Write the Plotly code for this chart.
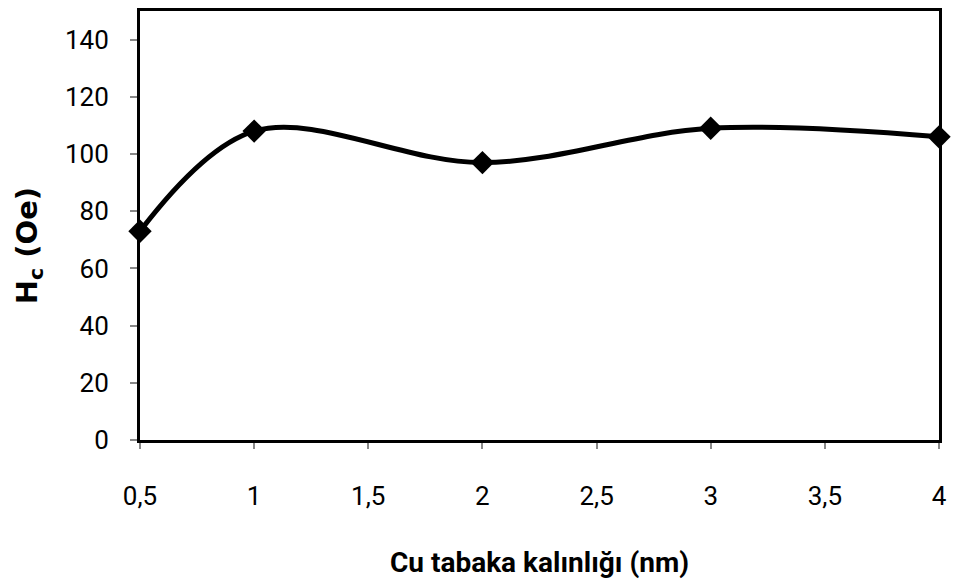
import plotly.graph_objects as go

thickness_nm = [0.5, 1, 2, 3, 4]
hc_oe = [73, 108, 97, 109, 106]
x_ticks = [0.5, 1, 1.5, 2, 2.5, 3, 3.5, 4]
x_tick_labels = ["0,5", "1", "1,5", "2", "2,5", "3", "3,5", "4"]
y_ticks = [0, 20, 40, 60, 80, 100, 120, 140]
x_title = "<b>Cu tabaka kalınlığı (nm)</b>"
y_title = "<b>H<sub>c</sub> (Oe)</b>"

fig = go.Figure()
fig.add_trace(go.Scatter(
    x=thickness_nm, y=hc_oe, mode="lines+markers",
    line=dict(color="black", width=5, shape="spline", smoothing=1),
    marker=dict(symbol="diamond", size=18, color="black"),
    cliponaxis=False, showlegend=False,
))

font_ticks = dict(family="Roboto, sans-serif", size=26, color="black")

fig.update_layout(
    width=955, height=580,
    margin=dict(l=140, r=15, t=8, b=140),
    paper_bgcolor="white", plot_bgcolor="white",
    xaxis=dict(
        range=[0.5, 4], tickvals=x_ticks, ticktext=x_tick_labels,
        showgrid=False, zeroline=False,
        showline=True, linecolor="black", linewidth=3, mirror=True,
        ticks="outside", ticklen=6, tickwidth=2, tickcolor="#888888",
        tickfont=font_ticks, ticklabelstandoff=25,
    ),
    yaxis=dict(
        range=[0, 150], tickvals=y_ticks,
        showgrid=False, zeroline=False,
        showline=True, linecolor="black", linewidth=3, mirror=True,
        ticks="outside", ticklen=7, tickwidth=2, tickcolor="#888888",
        tickfont=font_ticks, ticklabelstandoff=16,
    ),
    annotations=[
        dict(text=x_title, xref="paper", yref="paper", x=0.5, y=-0.285,
             xanchor="center", yanchor="middle", showarrow=False,
             font=dict(family="Roboto, sans-serif", size=28, color="black")),
        dict(text=y_title, xref="paper", yref="paper", x=-0.139, y=0.454,
             xanchor="center", yanchor="middle", showarrow=False, textangle=-90,
             font=dict(family="DejaVu Sans, sans-serif", size=29, color="black")),
    ],
)

fig.write_html("out.html", config={"displayModeBar": False},
               post_script="document.body.style.margin='0px';")
